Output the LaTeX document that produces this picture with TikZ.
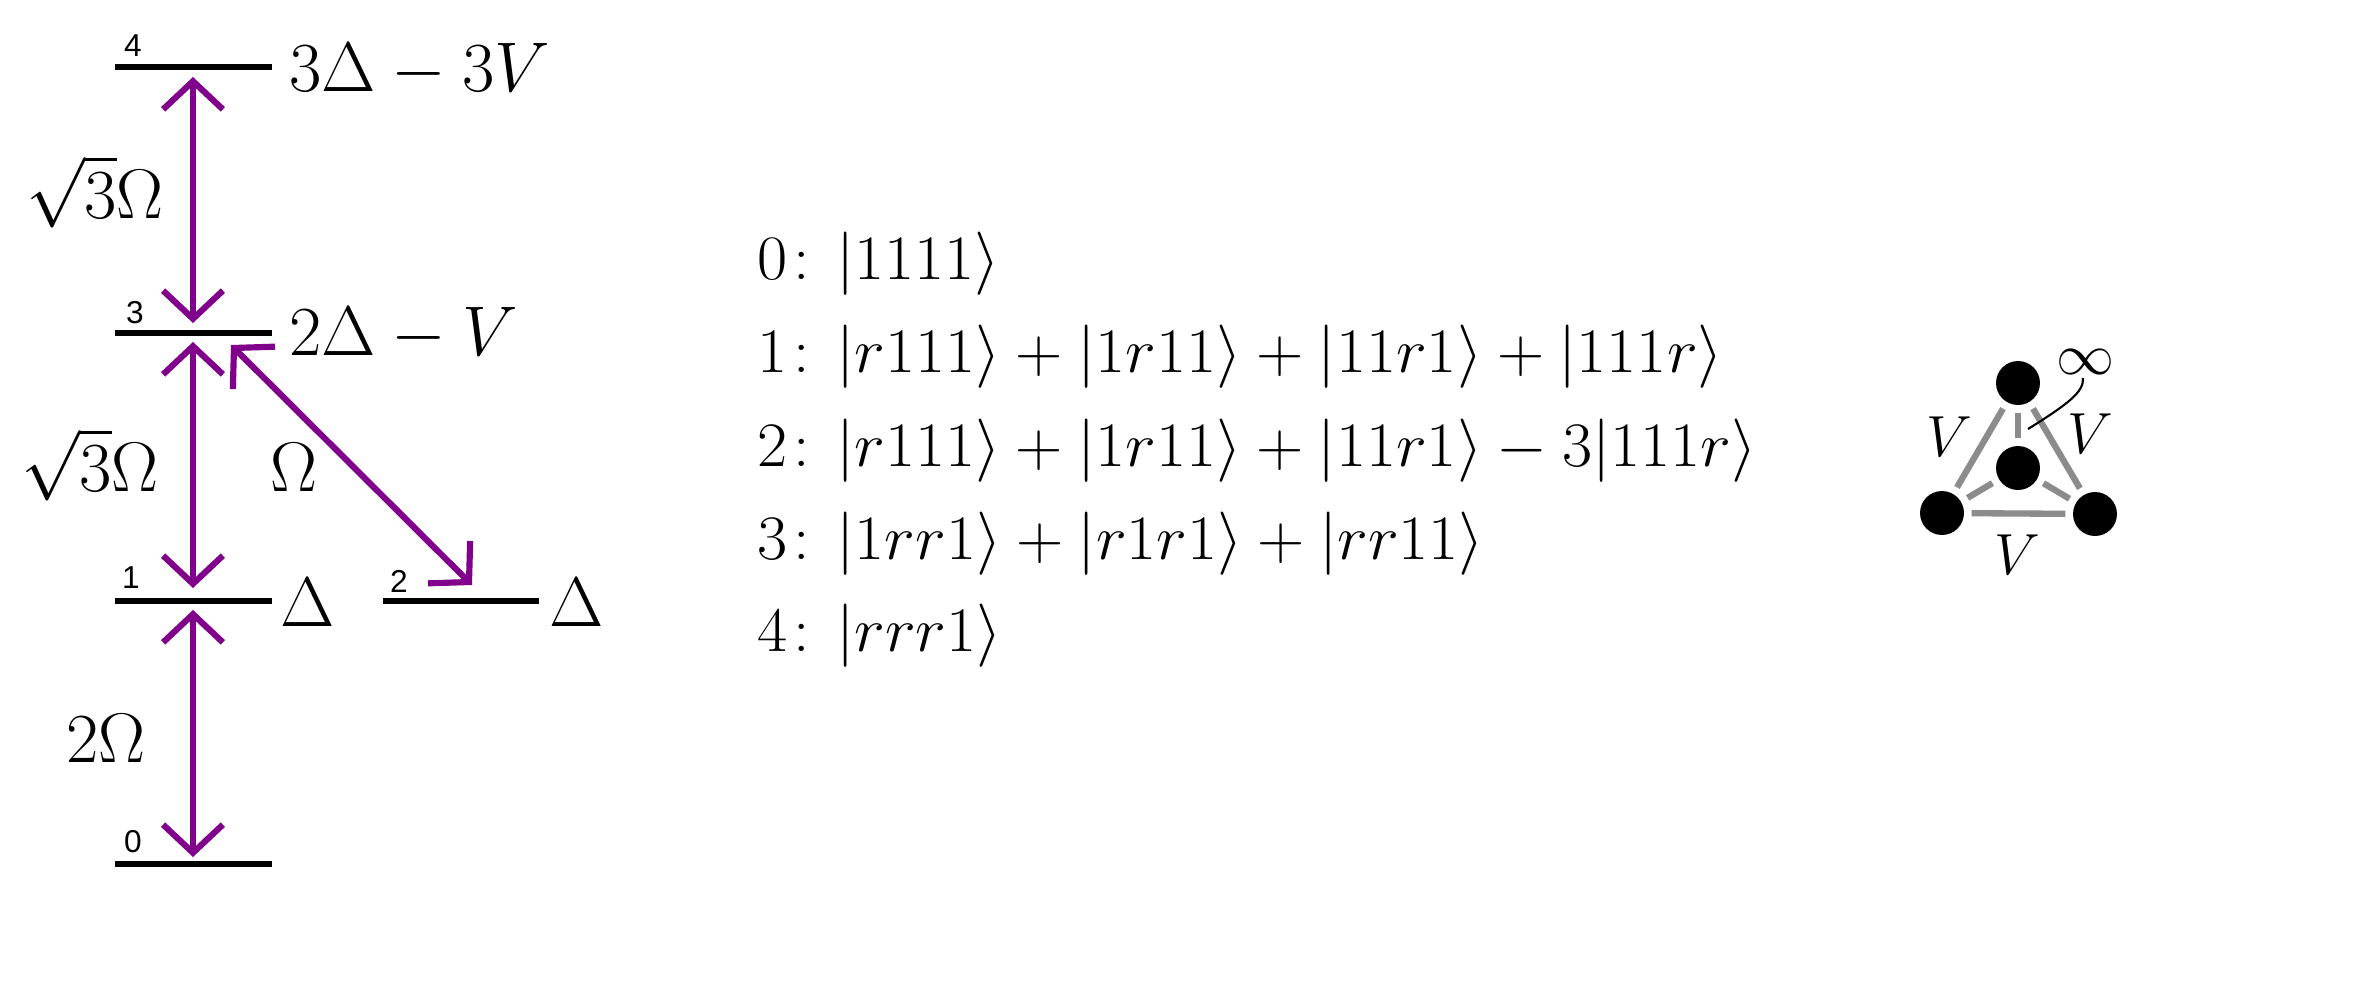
\RequirePackage{fix-cm}
\documentclass[tikz,border=0pt]{standalone}
\usepackage{fontspec}
\usepackage{graphicx}
\usetikzlibrary{arrows.meta}
\newfontfamily\lvlfont{Liberation Sans}
\definecolor{arrpurple}{RGB}{128,0,140}
\definecolor{edgegray}{RGB}{140,140,140}
\tikzset{
  level/.style={line width=1.85pt, line cap=butt},
  trans/.style={draw=arrpurple, line width=1.75pt,
    {Straight Barb[length=8pt,width=17pt]}-{Straight Barb[length=8pt,width=17pt]}},
  lvlnum/.style={font=\lvlfont\fontsize{9}{10}\selectfont, inner sep=0pt, anchor=base},
  energy/.style={font=\fontsize{20}{24}\selectfont, inner sep=0pt, anchor=base west},
  rabi/.style={font=\fontsize{20}{24}\selectfont, inner sep=0pt, anchor=base},
  stateline/.style={font=\fontsize{18}{21}\selectfont, inner sep=0pt, anchor=base west},
  atom/.style={circle, fill=black, inner sep=0pt, minimum size=12.5pt},
  bond/.style={draw=edgegray, line width=1.8pt, shorten <=2pt, shorten >=2pt},
  vlab/.style={font=\fontsize{16.5}{20}\selectfont, inner sep=0pt}
}
\newcommand{\lbl}[2]{\scalebox{1.035}[1]{#1\kern0.09em: #2}}
\begin{document}
\begin{tikzpicture}[x=0.01cm, y=-0.01cm]
\useasboundingbox (0,0) rectangle (2362,984);

% level end points
\coordinate (L4a) at (115,67);  \coordinate (L4b) at (272,67);
\coordinate (L3a) at (115,333); \coordinate (L3b) at (272,333);
\coordinate (L1a) at (115,601); \coordinate (L1b) at (272,601);
\coordinate (L2a) at (383,601); \coordinate (L2b) at (539,601);
\coordinate (L0a) at (115,864); \coordinate (L0b) at (272,864);

\draw[level] (L4a) -- (L4b);
\draw[level] (L3a) -- (L3b);
\draw[level] (L1a) -- (L1b);
\draw[level] (L2a) -- (L2b);
\draw[level] (L0a) -- (L0b);

% level numbers
\node[lvlnum] (n4) at (133,56) {4};
\node[lvlnum] (n3) at (135,323) {3};
\node[lvlnum] (n1) at (131,588) {1};
\node[lvlnum] (n2) at (399,592) {2};
\node[lvlnum] (n0) at (133,852) {0};

% energies
\node[energy] (e4) at (289,91) {$3\Delta-3V$};
\node[energy] (e3) at (289,355) {$2\Delta-V$};
\node[energy] (e1) at (280,626) {$\Delta$};
\node[energy] (e2) at (549,626) {$\Delta$};

% transition end points
\coordinate (t43a) at (193,77);  \coordinate (t43b) at (193,323);
\coordinate (t31a) at (193,342); \coordinate (t31b) at (193,588);
\coordinate (t10a) at (193,610); \coordinate (t10b) at (193,857);
\coordinate (t32a) at (231,345); \coordinate (t32b) at (472,585);

\draw[trans] (t43a) -- (t43b);
\draw[trans] (t31a) -- (t31b);
\draw[trans] (t10a) -- (t10b);
\draw[trans] (t32a) -- (t32b);

% Rabi labels
\node[rabi] (r43) at (95,218) {$\sqrt{3}\Omega$};
\node[rabi] (r31) at (90,491) {$\sqrt{3}\Omega$};
\node[rabi] (r32) at (294,491) {$\Omega$};
\node[rabi] (r10) at (106,762) {$2\Omega$};

% states
\node[stateline] (s0) at (757,279) {\lbl{0}{$|1111\rangle$}};
\node[stateline] (s1) at (757,372) {\lbl{1}{$|r111\rangle+|1r11\rangle+|11r1\rangle+|111r\rangle$}};
\node[stateline] (s2) at (757,466) {\lbl{2}{$|r111\rangle+|1r11\rangle+|11r1\rangle-3|111r\rangle$}};
\node[stateline] (s3) at (757,559) {\lbl{3}{$|1rr1\rangle+|r1r1\rangle+|rr11\rangle$}};
\node[stateline] (s4) at (757,651) {\lbl{4}{$|rrr1\rangle$}};

% tetrahedron
\node[atom] (T)  at (2018,383) {};
\node[atom] (C)  at (2018,468) {};
\node[atom] (BL) at (1942,513) {};
\node[atom] (BR) at (2095,514) {};
\draw[bond] (T) -- (BL);
\draw[bond] (T) -- (BR);
\draw[bond] (BL) -- (BR);
\draw[bond] (T) -- (C);
\draw[bond] (C) -- (BL);
\draw[bond] (C) -- (BR);

\node[vlab] (vl) at (1949,437) {$V$};
\node[vlab] (vr) at (2090,434) {$V$};
\node[vlab] (vb) at (2017,555) {$V$};
\node[vlab] (inf) at (2085,362) {$\infty$};
\coordinate (infs) at (2083,378);
\coordinate (infe) at (2028,429);
\draw[line width=0.6pt] (infs) .. controls (2084,392) and (2068,404) .. (infe);
\end{tikzpicture}
\end{document}
